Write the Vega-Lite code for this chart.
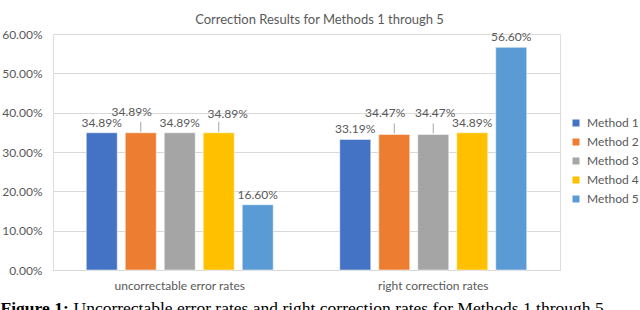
{
  "$schema": "https://vega.github.io/schema/vega-lite/v6.json",
  "autosize": {"type": "none"},
  "width": 507,
  "height": 236,
  "padding": {"left": 53, "top": 34, "right": 80, "bottom": 40},
  "background": "white",
  "title": {
    "text": "Correction Results for Methods 1 through 5",
    "anchor": "middle",
    "dx": 13,
    "dy": 20,
    "offset": 11,
    "baseline": "alphabetic",
    "font": "Lato",
    "fontSize": 13,
    "fontWeight": "normal",
    "color": "#595959"
  },
  "data": {
    "values": [
      {"category": "uncorrectable error rates", "method": "Method 1", "value": 0.3489},
      {"category": "uncorrectable error rates", "method": "Method 2", "value": 0.3489},
      {"category": "uncorrectable error rates", "method": "Method 3", "value": 0.3489},
      {"category": "uncorrectable error rates", "method": "Method 4", "value": 0.3489},
      {"category": "uncorrectable error rates", "method": "Method 5", "value": 0.166},
      {"category": "right correction rates", "method": "Method 1", "value": 0.3319},
      {"category": "right correction rates", "method": "Method 2", "value": 0.3447},
      {"category": "right correction rates", "method": "Method 3", "value": 0.3447},
      {"category": "right correction rates", "method": "Method 4", "value": 0.3489},
      {"category": "right correction rates", "method": "Method 5", "value": 0.566}
    ]
  },
  "encoding": {
    "x": {
      "field": "category",
      "type": "nominal",
      "sort": ["uncorrectable error rates", "right correction rates"],
      "scale": {"paddingInner": 0, "paddingOuter": 0},
      "axis": {
        "labelAngle": 0,
        "ticks": false,
        "domainColor": "#d9d9d9",
        "labelPadding": 10,
        "labelFont": "Lato",
        "labelFontSize": 12,
        "labelColor": "#595959",
        "title": "Figure 1:",
        "titleX": -53,
        "titleY": 43,
        "titleAlign": "left",
        "titleAnchor": "start",
        "titleBaseline": "alphabetic",
        "titleFont": "Liberation Serif",
        "titleFontSize": 17.5,
        "titleFontWeight": "bold",
        "titleColor": "#000000"
      }
    },
    "xOffset": {
      "field": "method",
      "type": "nominal",
      "scale": {"paddingInner": 0.205, "paddingOuter": 0.853}
    },
    "y": {
      "field": "value",
      "type": "quantitative",
      "scale": {"domain": [0, 0.6], "nice": false},
      "axis": {
        "format": ".2%",
        "values": [0, 0.1, 0.2, 0.3, 0.4, 0.5, 0.6],
        "domain": false,
        "ticks": false,
        "labelPadding": 11,
        "labelFont": "Lato",
        "labelFontSize": 12,
        "labelColor": "#595959",
        "gridColor": "#d9d9d9",
        "title": "Uncorrectable error rates and right correction rates for Methods 1 through 5.",
        "titleAngle": 0,
        "titleX": 20,
        "titleY": 279,
        "titleAlign": "left",
        "titleAnchor": "start",
        "titleBaseline": "alphabetic",
        "titleFont": "Liberation Serif",
        "titleFontSize": 17.5,
        "titleFontWeight": "normal",
        "titleColor": "#000000"
      }
    },
    "color": {
      "field": "method",
      "type": "nominal",
      "scale": {"range": ["#4472C4", "#ED7D31", "#A5A5A5", "#FFC000", "#5B9BD5"]},
      "legend": {
        "title": null,
        "orient": "none",
        "legendX": 517,
        "legendY": 83,
        "padding": 0,
        "symbolType": "square",
        "symbolSize": 49,
        "symbolStrokeWidth": 0,
        "labelFont": "Lato",
        "labelFontSize": 12,
        "labelColor": "#595959",
        "labelOffset": 5,
        "rowPadding": 7
      }
    }
  },
  "layer": [
    {"mark": {"type": "bar", "stroke": "white", "strokeWidth": 0.5}},
    {
      "transform": [{"filter": "!((datum.category == 'uncorrectable error rates' && (datum.method == 'Method 2' || datum.method == 'Method 4')) || (datum.category == 'right correction rates' && (datum.method == 'Method 2' || datum.method == 'Method 3')))"}],
      "mark": {"type": "text", "baseline": "alphabetic", "dy": -6, "font": "Lato", "fontSize": 12, "color": "#595959"},
      "encoding": {"text": {"field": "value", "type": "quantitative", "format": ".2%"}, "color": {"value": "#595959"}}
    },
    {
      "transform": [{"filter": "datum.method == 'Method 2'"}],
      "mark": {"type": "text", "baseline": "alphabetic", "dx": -9, "dy": -17, "font": "Lato", "fontSize": 12, "color": "#595959"},
      "encoding": {"text": {"field": "value", "type": "quantitative", "format": ".2%"}, "color": {"value": "#595959"}}
    },
    {
      "transform": [{"filter": "datum.category == 'uncorrectable error rates' && datum.method == 'Method 4'"}],
      "mark": {"type": "text", "baseline": "alphabetic", "dx": 9, "dy": -15, "font": "Lato", "fontSize": 12, "color": "#595959"},
      "encoding": {"text": {"field": "value", "type": "quantitative", "format": ".2%"}, "color": {"value": "#595959"}}
    },
    {
      "transform": [{"filter": "datum.category == 'right correction rates' && datum.method == 'Method 3'"}],
      "mark": {"type": "text", "baseline": "alphabetic", "dx": 2, "dy": -17, "font": "Lato", "fontSize": 12, "color": "#595959"},
      "encoding": {"text": {"field": "value", "type": "quantitative", "format": ".2%"}, "color": {"value": "#595959"}}
    },
    {
      "transform": [{"filter": "(datum.category == 'uncorrectable error rates' && (datum.method == 'Method 2' || datum.method == 'Method 4')) || (datum.category == 'right correction rates' && (datum.method == 'Method 2' || datum.method == 'Method 3'))"}],
      "mark": {"type": "rule", "yOffset": -1, "y2Offset": -11, "strokeWidth": 1, "color": "#a6a6a6"},
      "encoding": {"y2": {"field": "value"}, "color": {"value": "#a6a6a6"}}
    }
  ]
}
